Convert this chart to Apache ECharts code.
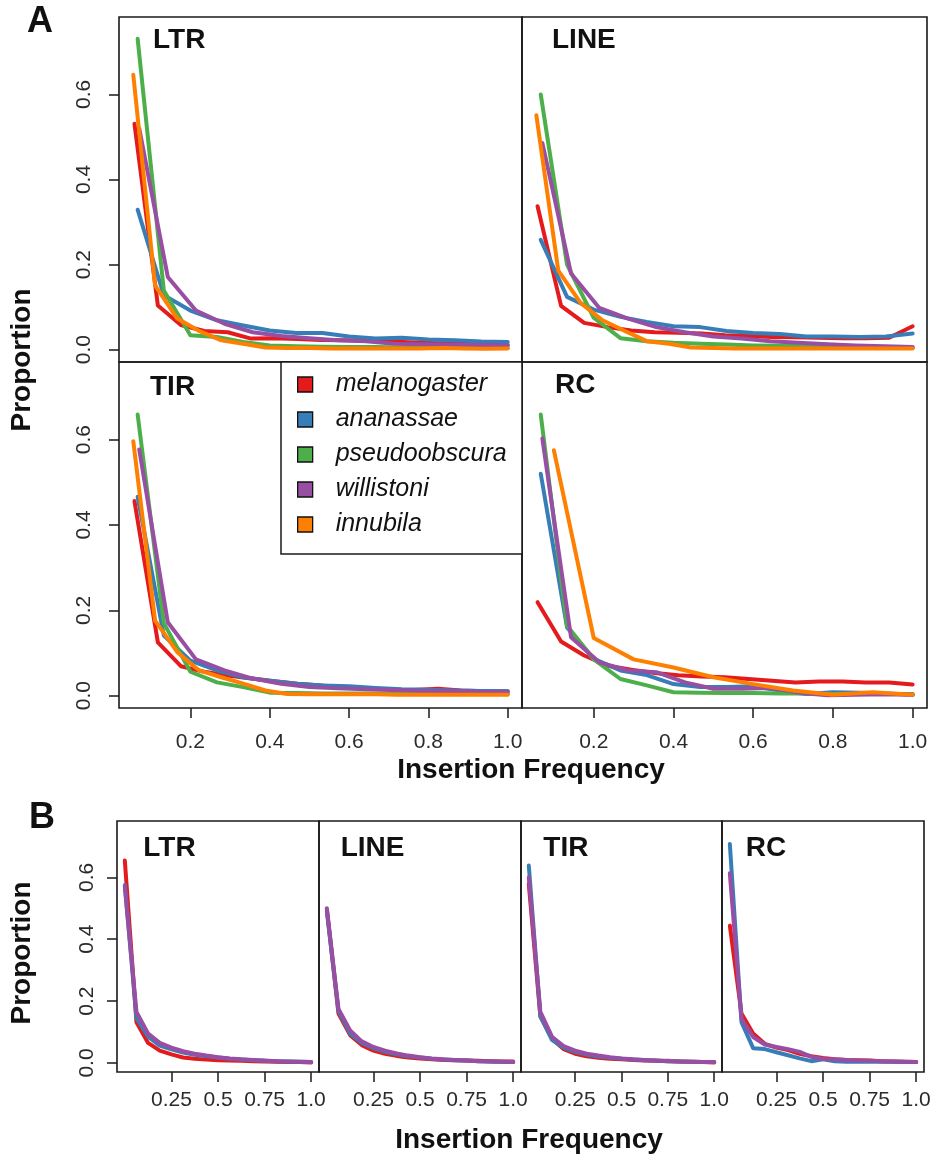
<!DOCTYPE html>
<html><head><meta charset="utf-8">
<script src="https://cdn.jsdelivr.net/npm/echarts@6/dist/echarts.min.js"></script>
<style>html,body{margin:0;padding:0;background:#fff}#c{width:942px;height:1157px}</style>
</head><body><div id="c"></div>
<script>
// ---------- DATA ----------
const species = ['melanogaster','ananassae','pseudoobscura','willistoni','innubila'];
const colors  = ['#E41A1C','#377EB8','#4DAF4A','#984EA3','#FF7F00'];
const panelsA = ['LTR','LINE','TIR','RC'];
const panelsB = ['LTR','LINE','TIR','RC'];
const ticksAx = [0.2,0.4,0.6,0.8,1.0];
const ticksBx = [0.25,0.5,0.75,1.0];
const ticksY  = [0,0.2,0.4,0.6];

// insertion-frequency classes (panel A) per species
const freqMel = [0.059,0.118,0.176,0.235,0.294,0.353,0.412,0.471,0.529,0.588,0.647,0.706,0.765,0.824,0.882,0.941,1.0];
const freqAna = [0.067,0.133,0.2,0.267,0.333,0.4,0.467,0.533,0.6,0.667,0.733,0.8,0.867,0.933,1.0];
const freqPse = [0.067,0.133,0.2,0.267,0.333,0.4,0.467,0.533,0.6,0.667,0.733,0.8,0.867,0.933,1.0];
const freqWil = [0.071,0.143,0.214,0.286,0.357,0.429,0.5,0.571,0.643,0.714,0.786,0.857,0.929,1.0];
const freqInn = [0.056,0.111,0.167,0.222,0.278,0.333,0.389,0.444,0.5,0.556,0.611,0.667,0.722,0.778,0.833,0.889,0.944,1.0];
const freqInnRC = [0.1,0.2,0.3,0.4,0.5,0.6,0.7,0.8,0.9,1.0];

// Panel A — LTR
const ltrMel = [0.531,0.104,0.058,0.044,0.041,0.026,0.027,0.025,0.023,0.022,0.021,0.019,0.017,0.015,0.014,0.013,0.011];
const ltrAna = [0.329,0.128,0.092,0.069,0.057,0.045,0.039,0.039,0.031,0.026,0.028,0.024,0.022,0.019,0.018];
const ltrPse = [0.731,0.139,0.034,0.030,0.018,0.010,0.008,0.007,0.006,0.006,0.005,0.005,0.004,0.004,0.004];
const ltrWil = [0.520,0.171,0.092,0.061,0.041,0.032,0.027,0.022,0.020,0.014,0.013,0.012,0.011,0.010];
const ltrInn = [0.646,0.151,0.073,0.044,0.022,0.014,0.005,0.004,0.004,0.003,0.003,0.003,0.003,0.003,0.004,0.003,0.002,0.003];
// Panel A — LINE
const lineMel = [0.337,0.103,0.063,0.053,0.045,0.041,0.040,0.038,0.034,0.032,0.030,0.029,0.028,0.027,0.027,0.028,0.055];
const lineAna = [0.258,0.124,0.094,0.077,0.065,0.055,0.053,0.044,0.039,0.037,0.031,0.031,0.030,0.031,0.038];
const linePse = [0.600,0.200,0.075,0.027,0.020,0.016,0.014,0.012,0.010,0.009,0.008,0.007,0.006,0.006,0.005];
const lineWil = [0.486,0.179,0.098,0.073,0.053,0.041,0.031,0.026,0.020,0.016,0.013,0.010,0.008,0.006];
const lineInn = [0.551,0.186,0.110,0.069,0.044,0.020,0.014,0.005,0.004,0.003,0.003,0.003,0.003,0.003,0.003,0.003,0.003,0.003];
// Panel A — TIR
const tirMel = [0.456,0.125,0.069,0.056,0.047,0.040,0.034,0.028,0.024,0.020,0.017,0.014,0.013,0.016,0.012,0.010,0.010];
const tirAna = [0.466,0.141,0.082,0.059,0.043,0.035,0.028,0.024,0.022,0.018,0.015,0.014,0.012,0.011,0.010];
const tirPse = [0.659,0.170,0.056,0.031,0.020,0.007,0.006,0.005,0.005,0.005,0.004,0.004,0.004,0.004,0.004];
const tirWil = [0.577,0.172,0.085,0.059,0.040,0.028,0.020,0.017,0.015,0.013,0.011,0.010,0.009,0.008];
const tirInn = [0.596,0.176,0.102,0.059,0.043,0.028,0.012,0.004,0.003,0.003,0.003,0.003,0.002,0.002,0.002,0.002,0.002,0.002];
// Panel A — RC
const rcMel = [0.219,0.127,0.094,0.070,0.061,0.053,0.048,0.045,0.043,0.039,0.035,0.031,0.033,0.033,0.031,0.031,0.026];
const rcAna = [0.520,0.160,0.086,0.059,0.048,0.027,0.020,0.020,0.022,0.012,0.004,0.008,0.007,0.005,0.002];
const rcPse = [0.659,0.164,0.085,0.039,0.024,0.008,0.007,0.006,0.006,0.005,0.005,0.004,0.004,0.004,0.004];
const rcWil = [0.603,0.137,0.078,0.059,0.055,0.031,0.016,0.016,0.018,0.007,0.001,0.002,0.003,0.002];
const rcInn = [0.575,0.135,0.085,0.066,0.043,0.027,0.012,0.002,0.008,0.002];

// Panel B — frequency classes and values (melanogaster, ananassae, willistoni)
const freqB = [0,0.0625,0.125,0.1875,0.25,0.3125,0.375,0.4375,0.5,0.5625,0.625,0.6875,0.75,0.8125,0.875,0.9375,1.0];
const bLtrMel = [0.654,0.132,0.065,0.040,0.028,0.018,0.014,0.011,0.009,0.008,0.007,0.006,0.005,0.004,0.003,0.003,0.002];
const bLtrAna = [0.575,0.145,0.085,0.056,0.044,0.034,0.027,0.022,0.018,0.014,0.011,0.009,0.007,0.006,0.005,0.004,0.003];
const bLtrWil = [0.570,0.165,0.095,0.065,0.050,0.038,0.030,0.024,0.019,0.015,0.012,0.010,0.008,0.006,0.005,0.004,0.003];
const bLineMel = [0.498,0.160,0.090,0.058,0.040,0.030,0.023,0.018,0.015,0.012,0.010,0.009,0.008,0.007,0.006,0.005,0.005];
const bLineAna = [0.490,0.168,0.095,0.065,0.048,0.036,0.028,0.022,0.018,0.014,0.011,0.009,0.008,0.006,0.005,0.004,0.003];
const bLineWil = [0.500,0.175,0.105,0.070,0.052,0.040,0.031,0.024,0.019,0.015,0.012,0.010,0.008,0.006,0.005,0.004,0.003];
const bTirMel = [0.579,0.150,0.078,0.045,0.030,0.022,0.017,0.014,0.012,0.010,0.008,0.007,0.006,0.005,0.004,0.003,0.002];
const bTirAna = [0.638,0.152,0.075,0.050,0.036,0.027,0.021,0.017,0.014,0.011,0.009,0.008,0.006,0.005,0.004,0.003,0.003];
const bTirWil = [0.600,0.165,0.085,0.055,0.040,0.030,0.024,0.019,0.015,0.012,0.010,0.008,0.007,0.005,0.004,0.003,0.003];
const bRcMel = [0.444,0.160,0.095,0.062,0.050,0.042,0.030,0.022,0.016,0.012,0.010,0.009,0.008,0.006,0.005,0.004,0.003];
const bRcAna = [0.708,0.132,0.048,0.045,0.035,0.025,0.015,0.006,0.012,0.006,0.004,0.004,0.005,0.004,0.004,0.003,0.003];
const bRcWil = [0.613,0.143,0.084,0.060,0.052,0.045,0.036,0.020,0.013,0.012,0.010,0.008,0.007,0.006,0.005,0.004,0.003];

// ---------- BUILD ----------
const FONT = '"Liberation Sans", Arial, Helvetica, sans-serif';
const zip = (xs, ys) => ys.map((y, i) => [xs[i], y]);

const seriesA = [
  [[freqMel,ltrMel],[freqAna,ltrAna],[freqPse,ltrPse],[freqWil,ltrWil],[freqInn,ltrInn]],
  [[freqMel,lineMel],[freqAna,lineAna],[freqPse,linePse],[freqWil,lineWil],[freqInn,lineInn]],
  [[freqMel,tirMel],[freqAna,tirAna],[freqPse,tirPse],[freqWil,tirWil],[freqInn,tirInn]],
  [[freqMel,rcMel],[freqAna,rcAna],[freqPse,rcPse],[freqWil,rcWil],[freqInnRC,rcInn]]
];
const speciesB = [0,1,3];
const seriesB = [
  [bLtrMel,bLtrAna,bLtrWil],
  [bLineMel,bLineAna,bLineWil],
  [bTirMel,bTirAna,bTirWil],
  [bRcMel,bRcAna,bRcWil]
];

const gridBox = {show:true, borderColor:'#1a1a1a', borderWidth:1.6, backgroundColor:'transparent', outerBoundsMode:'none', containLabel:false};
const grids = [
  {left:119, top:17,  width:403, height:345},
  {left:522, top:17,  width:405, height:345},
  {left:119, top:362, width:403, height:346},
  {left:522, top:362, width:405, height:346},
  {left:117, top:821, width:202, height:251},
  {left:319, top:821, width:202, height:251},
  {left:521, top:821, width:201, height:251},
  {left:722, top:821, width:202, height:251}
].map(g => Object.assign({}, gridBox, g));

const tickStyle = {show:true, inside:false, length:10, lineStyle:{color:'#1a1a1a', width:1.5}};
const labStyle = {fontSize:21, color:'#2b2b2b', fontFamily:FONT};

const xAxes = [], yAxes = [];
for (let i = 0; i < 8; i++) {
  const isA = i < 4;
  const xt = isA ? ticksAx : ticksBx;
  xAxes.push({
    type:'value', gridIndex:i,
    min: isA ? 0.02 : -0.042, max: isA ? 1.036 : 1.042,
    show: isA ? i >= 2 : true,
    axisLine:{show:false, onZero:false},
    splitLine:{show:false},
    axisTick: Object.assign({customValues:xt}, tickStyle),
    axisLabel: Object.assign({customValues:xt, margin: isA ? 24 : 18,
      formatter: v => (isA || v === 1) ? v.toFixed(1) : String(v)}, labStyle)
  });
  yAxes.push({
    type:'value', gridIndex:i, min:-0.029, max:0.782,
    show: isA ? (i % 2 === 0) : i === 4,
    axisLine:{show:false, onZero:false},
    splitLine:{show:false},
    axisTick: Object.assign({customValues:ticksY}, tickStyle),
    axisLabel: Object.assign({customValues:ticksY, rotate:90, margin: isA ? 24 : 19,
      formatter: v => v.toFixed(1)}, labStyle)
  });
}

const series = [];
const lineOf = (name, color, gi, data) => ({
  type:'line', name, xAxisIndex:gi, yAxisIndex:gi, data,
  showSymbol:false, symbol:'none', silent:true, animation:false,
  itemStyle:{color}, lineStyle:{color, width:4, cap:'round', join:'round'},
  emphasis:{disabled:true}, z:2
});
seriesA.forEach((panel, gi) => panel.forEach(([xs, ys], s) =>
  series.push(lineOf(species[s], colors[s], gi, zip(xs, ys)))));
seriesB.forEach((panel, p) => panel.forEach((ys, k) => {
  const s = speciesB[k];
  series.push(lineOf(species[s], colors[s], 4 + p, zip(freqB, ys)));
}));

const txt = (text, x, y, size, extra) => Object.assign({
  type:'text', x, y, z:20, silent:true,
  style:{text, fontSize:size, fontWeight:'bold', fontFamily:FONT, fill:'#111',
         textAlign:'left', textVerticalAlign:'middle'}
}, extra || {});
const titleA = [[153,40.5],[552,40.5],[150,387.7],[555,385.5]];
const titleB = [[143.3,848.7],[340.7,848.7],[543.3,848.7],[745.7,848.7]];

const graphics = [
  {type:'rect', z:3, silent:true, shape:{x:281, y:362, width:241, height:192},
   style:{fill:'#fff', stroke:'#1a1a1a', lineWidth:1.5}},
  txt('A', 27, 21.7, 36),
  txt('B', 29, 818.5, 36),
  ...panelsA.map((t, i) => txt(t, titleA[i][0], titleA[i][1], 28)),
  ...panelsB.map((t, i) => txt(t, titleB[i][0], titleB[i][1], 28)),
  {type:'text', x:22, y:360, rotation:Math.PI/2, z:20, silent:true,
   style:{text:'Proportion', fontSize:28, fontWeight:'bold', fontFamily:FONT, fill:'#111', textAlign:'center', textVerticalAlign:'middle'}},
  {type:'text', x:22, y:953, rotation:Math.PI/2, z:20, silent:true,
   style:{text:'Proportion', fontSize:28, fontWeight:'bold', fontFamily:FONT, fill:'#111', textAlign:'center', textVerticalAlign:'middle'}},
  {type:'text', x:531, y:770, z:20, silent:true,
   style:{text:'Insertion Frequency', fontSize:28, fontWeight:'bold', fontFamily:FONT, fill:'#111', textAlign:'center', textVerticalAlign:'middle'}},
  {type:'text', x:529, y:1140, z:20, silent:true,
   style:{text:'Insertion Frequency', fontSize:28, fontWeight:'bold', fontFamily:FONT, fill:'#111', textAlign:'center', textVerticalAlign:'middle'}}
];

const chart = echarts.init(document.getElementById('c'), null, {renderer:'canvas', width:942, height:1157});
chart.setOption({
  animation:false,
  backgroundColor:'#fff',
  grid: grids,
  xAxis: xAxes,
  yAxis: yAxes,
  legend: {
    data: species, orient:'vertical', left:297, top:372, padding:0,
    itemWidth:15, itemHeight:15, itemGap:10, icon:'rect', selectedMode:false, z:10,
    itemStyle:{borderColor:'#111', borderWidth:1.3},
    textStyle:{fontSize:25, fontStyle:'italic', color:'#111', fontFamily:FONT, padding:[0,0,0,18]}
  },
  graphic: graphics,
  series
});
</script>
</body></html>
